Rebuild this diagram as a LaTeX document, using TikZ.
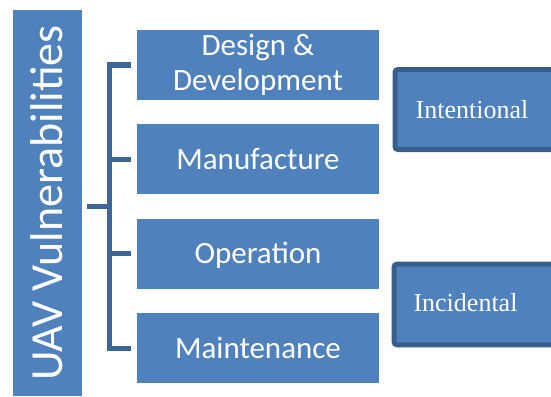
\documentclass[tikz,border=0pt]{standalone}
\usepackage{fontspec}
\newfontfamily\boxfont{Carlito}
\newfontfamily\labelfont{Liberation Serif}
\usetikzlibrary{calc}
\definecolor{boxblue}{HTML}{4F81BD}
\definecolor{linkblue}{HTML}{3D6596}
\definecolor{edgeblue}{HTML}{3A5E8C}

\begin{document}
\begin{tikzpicture}[x=1pt,y=-1pt,
  stagebox/.style={fill=boxblue, draw=none, minimum width=242pt, minimum height=70pt,
    inner sep=0pt, text=white, font=\boxfont\fontsize{31}{35}\selectfont},
  oneline/.style={text height=20pt, text depth=0pt},
  link/.style={draw=linkblue, line width=5pt, line join=miter},
  kindbox/.style={fill=boxblue, draw=edgeblue, line width=5pt, rounded corners=3pt,
    inner sep=0pt, anchor=west},
  kindtext/.style={text=white, font=\labelfont\fontsize{26}{30}\selectfont,
    inner sep=0pt, text height=17pt, text depth=0pt}]

\useasboundingbox (0,0) rectangle (551,396);

% title column
\node[fill=boxblue, minimum width=386pt, minimum height=69pt, inner sep=0pt,
  rotate=90, text=white, font=\boxfont\fontsize{46}{50}\selectfont,
  text height=29.6pt, text depth=0pt] (uav) at (47.5,203) {UAV Vulnerabilities};

% life-cycle stages
\node[stagebox, align=center] (design) at (258,65) {Design \&\\Development};
\node[stagebox, oneline] (manufacture) at (258,159) {Manufacture};
\node[stagebox, oneline] (operation) at (258,253.5) {Operation};
\node[stagebox, oneline] (maintenance) at (258,348) {Maintenance};

% bracket joining the stages
\coordinate (spine) at (109.5,0);
\coordinate (hub) at (87,206.5);
\path (design.west) ++(-5.5,0) coordinate (dEnd);
\path (manufacture.west) ++(-5.5,0) coordinate (fEnd);
\path (operation.west) ++(-5.5,0) coordinate (oEnd);
\path (maintenance.west) ++(-5.5,0) coordinate (mEnd);
\draw[link] (dEnd) -- (dEnd -| spine) -- (mEnd -| spine) -- (mEnd);
\draw[link] (fEnd -| spine) -- (fEnd);
\draw[link] (oEnd -| spine) -- (oEnd);
\draw[link] (hub) -- (hub -| spine);

% kinds of vulnerability
\node[kindbox, minimum width=170pt, minimum height=80pt] (intbox) at (392.5,109.5) {};
\node[kindtext] (intentional) at (472,109.5) {Intentional};
\node[kindbox, minimum width=170pt, minimum height=80.6pt] (incbox) at (391.5,304.5) {};
\node[kindtext] (incidental) at (465.5,303) {Incidental};

\end{tikzpicture}
\end{document}
